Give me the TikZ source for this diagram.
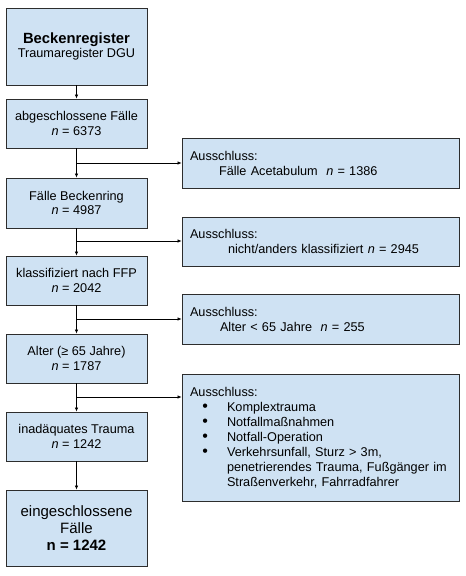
\documentclass[tikz,border=0pt]{standalone}
\usepackage{fontspec}
\setmainfont{Liberation Sans}
\usetikzlibrary{arrows.meta}
\definecolor{boxfill}{RGB}{207,226,243}
\definecolor{boxline}{RGB}{45,45,45}
\newcommand{\bigbul}{\makebox[24pt][l]{\kern-0.6pt{\fontsize{16}{15}\selectfont\raisebox{-0.6pt}{•}}}}
\tikzset{
  box/.style={draw=boxline, fill=boxfill, line width=0.8pt, minimum width=141pt,
    inner sep=0pt, align=center, font=\fontsize{12.7}{14.6}\selectfont},
  exbox/.style={draw=boxline, fill=boxfill, line width=0.8pt, minimum width=277pt,
    text width=261pt, inner xsep=8pt, inner ysep=0pt, align=left,
    font=\fontsize{12.7}{15}\selectfont},
  arr/.style={-{Latex[length=4pt,width=3.5pt]}, line width=0.7pt, draw=black}
}
\begin{document}
\begin{tikzpicture}[x=1pt,y=-1pt]
\useasboundingbox (0,0) rectangle (466,576);
% left column
\node[box, minimum height=77pt] (b1) at (76.5,46.5)
  {{\fontsize{14.8}{18}\selectfont\bfseries Beckenregister}\\Traumaregister DGU};
\node[box, minimum height=49pt] (b2) at (76.5,123.5)
  {abgeschlossene Fälle\\\textit{n} = 6373};
\node[box, minimum height=50pt] (b3) at (76.5,203)
  {Fälle Beckenring\\\textit{n} = 4987};
\node[box, minimum height=49pt] (b4) at (76.5,280.5)
  {klassifiziert nach FFP\\\textit{n} = 2042};
\node[box, minimum height=49pt] (b5) at (76.5,358.5)
  {Alter (≥ 65 Jahre)\\\textit{n} = 1787};
\node[box, minimum height=49pt] (b6) at (76.5,436.5)
  {inadäquates Trauma\\\textit{n} = 1242};
\node[box, minimum height=76pt, font=\fontsize{15}{17}\selectfont] (b7) at (76.5,528)
  {eingeschlossene\\Fälle\\\textbf{n = 1242}};
% right column
\node[exbox, minimum height=50pt] (r1) at (320.5,163)
  {Ausschluss:\\\hspace*{29pt}Fälle Acetabulum\ \ \textit{n} = 1386};
\node[exbox, minimum height=49pt] (r2) at (320.5,241.5)
  {Ausschluss:\\\hspace*{38pt}nicht/anders klassifiziert \textit{n} = 2945};
\node[exbox, minimum height=50pt] (r3) at (320.5,319)
  {Ausschluss:\\\hspace*{30pt}Alter < 65 Jahre\ \ \textit{n} = 255};
\node[exbox, minimum height=127pt] (r4) at (320.5,437.5)
  {Ausschluss:\\
   \hspace*{13pt}\bigbul Komplextrauma\\
   \hspace*{13pt}\bigbul Notfallmaßnahmen\\
   \hspace*{13pt}\bigbul Notfall-Operation\\
   \hspace*{13pt}\bigbul Verkehrsunfall, Sturz > 3m,\\
   \hspace*{37pt}penetrierendes Trauma, Fußgänger im\\
   \hspace*{37pt}Straßenverkehr, Fahrradfahrer};
% junctions
\coordinate (j1) at (76.5,163);
\coordinate (j2) at (76.5,241);
\coordinate (j3) at (76.5,319);
\coordinate (j4) at (76.5,397);
% main flow
\draw[arr] (b1) -- (b2);
\draw[arr] (b2) -- (b3);
\draw[arr] (b3) -- (b4);
\draw[arr] (b4) -- (b5);
\draw[arr] (b5) -- (b6);
\draw[arr] (b6) -- (b7);
% exclusions
\draw[arr] (j1) -- (j1 -| r1.west);
\draw[arr] (j2) -- (j2 -| r2.west);
\draw[arr] (j3) -- (j3 -| r3.west);
\draw[arr] (j4) -- (j4 -| r4.west);
\end{tikzpicture}
\end{document}
